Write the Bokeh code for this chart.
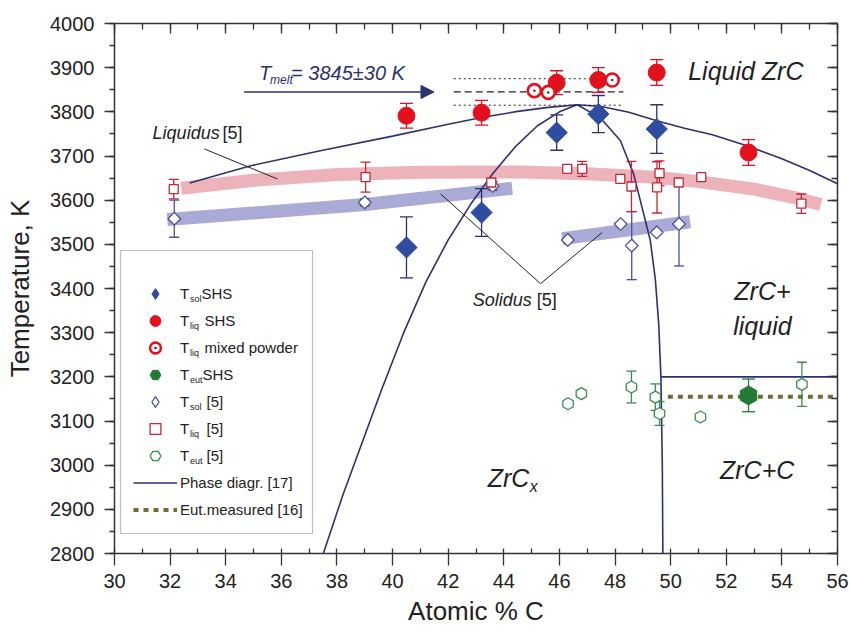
import numpy as np
from bokeh.plotting import figure
from bokeh.models import (Range1d, LinearAxis, SingleIntervalTicker, Label, Arrow,
                          NormalHead, Legend, LegendItem, BoxAnnotation, CustomJSTickFormatter)
from bokeh.embed import file_html
from bokeh.resources import INLINE

# ---------------- data ----------------
X_RANGE = (30, 56)
Y_RANGE = (2800, 4000)

# T_sol SHS (filled blue diamonds)
sol_shs_x = [40.5, 43.2, 45.9, 47.4, 49.5]
sol_shs_t = [3493, 3572, 3753, 3795, 3761]
sol_shs_err = [69, 54, 40, 42, 55]

# T_liq SHS (filled red circles)
liq_shs_x = [40.5, 43.2, 45.9, 47.4, 49.5, 52.8]
liq_shs_t = [3791, 3798, 3866, 3872, 3889, 3708]
liq_shs_err = [28, 28, 27, 28, 29, 29]

# T_liq mixed powder (open red circles with dot)
liq_mix_x = [45.1, 45.6, 47.9]
liq_mix_t = [3848, 3844, 3872]

# T_eut SHS (filled green hexagon)
eut_shs_x = [52.8]
eut_shs_t = [3158]
eut_shs_err = [37]

# T_sol [5] (open diamonds)
sol5_x = [32.15, 39.0, 43.6, 46.3, 48.2, 48.6, 49.5, 50.3]
sol5_t = [3558, 3595, 3632, 3510, 3546, 3497, 3527, 3546]
sol5_err = [42, 8, 10, 0, 0, 77, 0, 95]

# T_liq [5] (open squares)
liq5_x = [32.13, 39.03, 43.55, 46.28, 46.82, 48.19, 48.59, 49.6, 49.51, 50.29, 51.1, 54.7]
liq5_t = [3625, 3652, 3640, 3671, 3671, 3648, 3631, 3661, 3629, 3640, 3652, 3592]
liq5_err = [22, 34, 8, 0, 17, 0, 57, 28, 58, 0, 0, 22]

# T_eut [5] (open hexagons)
eut5_x = [46.31, 46.79, 48.59, 49.45, 49.6, 51.07, 54.72]
eut5_t = [3139, 3162, 3177, 3154, 3117, 3109, 3183]
eut5_err = [0, 0, 36, 30, 27, 0, 50]

# Phase diagram [17]
liquidus_x = [32.7, 34.9, 37.4, 40.0, 42.0, 43.2, 44.5, 45.6, 46.64, 47.5, 48.5, 49.5, 50.5, 51.5, 52.8, 54.0, 55.0, 56.0]
liquidus_t = [3639, 3678, 3712, 3745, 3772, 3787, 3801, 3810, 3816, 3812, 3799, 3780, 3763, 3748, 3722, 3694, 3667, 3637]
sol_left_x = [37.51, 38.2, 38.9, 39.6, 40.4, 41.2, 42.0, 42.8, 43.6, 44.4, 45.2, 46.0, 46.64]
sol_left_t = [2800, 2930, 3050, 3170, 3300, 3415, 3510, 3590, 3660, 3720, 3768, 3800, 3816]
sol_right_x = [46.64, 47.46, 48.19, 48.67, 49.03, 49.27, 49.45, 49.57, 49.65, 49.7, 49.72]
sol_right_t = [3816, 3787, 3735, 3659, 3569, 3508, 3420, 3320, 3200, 3000, 2800]
eut17_x = [49.65, 56.0]
eut17_t = [3200, 3200]

# Eutectic measured [16]
eutm_x = [49.9, 56.0]
eutm_t = [3155, 3155]

# Bands [5]
liq_band_x = [32.4, 35.0, 38.0, 41.0, 44.6, 47.0, 49.4, 51.0, 53.0, 54.5, 55.4]
liq_band_t = [3627, 3645, 3658, 3663, 3664, 3660, 3652, 3642, 3625, 3605, 3590]
sol_band1_x = [31.9, 39.0, 44.3]
sol_band1_t = [3556, 3590, 3627]
sol_band2_x = [46.1, 50.7]
sol_band2_t = [3513, 3551]

# T_melt = 3845 +- 30 K
tmelt_x = [42.2, 48.3]
tmelt_val = 3845
tmelt_err = 30
arrow_x = (34.66, 41.49)

# pointer lines
liq_ptr_x = [33.23, 35.86]
liq_ptr_t = [3716, 3648]
sol_ptr_x = [41.73, 45.32, 47.54]
sol_ptr_t = [3614, 3411, 3527]

# legend texts
leg_subs = ["sol", "liq", "liq", "eut", "sol", "liq", "eut"]
leg_rest = ["SHS", "SHS", "mixed powder", "SHS", "[5]", "[5]", "[5]"]

# ---------------- style ----------------
FONT = "Liberation Sans"
NAVY = "#2d3170"
BLUE = "#2f4da0"
RED = "#e3111d"
DGREEN = "#217a36"
GREEN = "#3d8b50"
SQRED = "#c2283a"
DIAB = "#4b4f97"
OLIVE = "#6f6d35"
AX = "#333333"

p = figure(width=850, height=632, x_range=Range1d(*X_RANGE), y_range=Range1d(*Y_RANGE),
           output_backend="svg", toolbar_location=None,
           x_axis_location=None, y_axis_location=None,
           min_border_left=114, min_border_right=13, min_border_top=23, min_border_bottom=79)
p.xgrid.visible = False
p.ygrid.visible = False
p.outline_line_color = None
p.background_fill_color = "white"


def make_axis(kind, labels):
    if kind == "x":
        t = SingleIntervalTicker(interval=2, num_minor_ticks=2)
    else:
        t = SingleIntervalTicker(interval=100, num_minor_ticks=2)
    a = LinearAxis(ticker=t)
    a.axis_line_color = AX
    a.axis_line_width = 1.5
    a.major_tick_line_color = AX
    a.minor_tick_line_color = AX
    a.major_tick_line_width = 1.3
    a.minor_tick_line_width = 1.3
    if not labels:
        a.formatter = CustomJSTickFormatter(code="return ''")
        a.major_label_standoff = 0
        a.major_label_text_font_size = "1px"
    else:
        a.major_label_text_font = FONT
        a.major_label_text_font_size = "20px"
        a.major_label_text_color = "#222222"
        a.axis_label_text_font = FONT
        a.axis_label_text_font_size = "26px"
        a.axis_label_text_font_style = "normal"
        a.axis_label_text_color = "#222222"
    return a


xb = make_axis("x", True)
xb.axis_label = "Atomic % C"
xb.major_tick_out, xb.major_tick_in = 12, 0
xb.minor_tick_out, xb.minor_tick_in = 0, 5
xb.major_label_standoff = 8
xb.axis_label_standoff = 5
p.add_layout(xb, "below")

yl = make_axis("y", True)
yl.axis_label = "Temperature, K"
yl.major_tick_out, yl.major_tick_in = 10, 0
yl.minor_tick_out, yl.minor_tick_in = 5, 0
yl.major_label_standoff = 10
yl.axis_label_standoff = 12
p.add_layout(yl, "left")

xt = make_axis("x", False)
xt.major_tick_out, xt.major_tick_in = 0, 10
xt.minor_tick_out, xt.minor_tick_in = 0, 6
p.add_layout(xt, "above")

yr = make_axis("y", False)
yr.major_tick_out, yr.major_tick_in = 0, 10
yr.minor_tick_out, yr.minor_tick_in = 0, 6
p.add_layout(yr, "right")

# ---------------- bands ----------------
p.line(liq_band_x, liq_band_t, line_color="#ecb4ba", line_width=13)
p.line(sol_band1_x, sol_band1_t, line_color="#aaaad6", line_width=13)
p.line(sol_band2_x, sol_band2_t, line_color="#aaaad6", line_width=13)

# ---------------- phase diagram lines ----------------
r_liquidus = p.line(liquidus_x, liquidus_t, line_color=NAVY, line_width=1.6)
p.line(sol_left_x, sol_left_t, line_color=NAVY, line_width=1.6)
p.line(sol_right_x, sol_right_t, line_color=NAVY, line_width=1.6)
p.line(eut17_x, eut17_t, line_color=NAVY, line_width=1.6)
r_eutm = p.line(eutm_x, eutm_t, line_color=OLIVE, line_width=4, line_dash="5 5")

# pointer lines
p.line(liq_ptr_x, liq_ptr_t, line_color="#222222", line_width=1)
p.line(sol_ptr_x, sol_ptr_t, line_color="#222222", line_width=1)

# T_melt lines
p.line(tmelt_x, [tmelt_val + tmelt_err] * 2, line_color="#222222", line_width=1, line_dash="2 3")
p.line(tmelt_x, [tmelt_val] * 2, line_color="#222222", line_width=1.2, line_dash="7 4")
p.line(tmelt_x, [tmelt_val - tmelt_err] * 2, line_color="#222222", line_width=1, line_dash="2 3")
p.add_layout(Arrow(end=NormalHead(size=13, fill_color=NAVY, line_color=NAVY),
                   x_start=arrow_x[0], y_start=tmelt_val, x_end=arrow_x[1], y_end=tmelt_val,
                   line_color=NAVY, line_width=1.6))


# ---------------- error bars ----------------
def errbars(xs, ts, errs, color, cap=12, lw=1.3):
    xe = [x for x, e in zip(xs, errs) if e > 0]
    lo = [t - e for t, e in zip(ts, errs) if e > 0]
    hi = [t + e for t, e in zip(ts, errs) if e > 0]
    p.segment(x0=xe, y0=lo, x1=xe, y1=hi, line_color=color, line_width=lw)
    p.scatter(x=xe + xe, y=lo + hi, marker="dash", size=cap, line_color=color, line_width=lw)


errbars(sol5_x, sol5_t, sol5_err, DIAB, cap=10)
errbars(liq5_x, liq5_t, liq5_err, SQRED, cap=10)
errbars(eut5_x, eut5_t, eut5_err, GREEN, cap=10)
errbars(sol_shs_x, sol_shs_t, sol_shs_err, NAVY, cap=13)
errbars(liq_shs_x, liq_shs_t, liq_shs_err, RED, cap=13)
errbars(eut_shs_x, eut_shs_t, eut_shs_err, DGREEN, cap=13)

# ---------------- markers ----------------
r_sol5 = p.scatter(sol5_x, sol5_t, marker="square", angle=np.pi / 4, size=9,
                   fill_color="white", line_color=DIAB, line_width=1.3)
r_sol5_leg = p.scatter(sol5_x, sol5_t, marker="diamond", size=12,
                       fill_color="white", line_color=DIAB, line_width=1.3, visible=False)
r_liq5 = p.scatter(liq5_x, liq5_t, marker="square", size=9,
                   fill_color="white", line_color=SQRED, line_width=1.3)
r_eut5 = p.scatter(eut5_x, eut5_t, marker="hex", angle=np.pi / 6, size=12,
                   fill_color="white", line_color=GREEN, line_width=1.3)

r_sol = p.scatter(sol_shs_x, sol_shs_t, marker="square", angle=np.pi / 4, size=15,
                  fill_color=BLUE, line_color=BLUE)
r_sol_leg = p.scatter(sol_shs_x, sol_shs_t, marker="diamond", size=20,
                      fill_color=BLUE, line_color=BLUE, visible=False)
r_liq = p.scatter(liq_shs_x, liq_shs_t, marker="circle", size=17,
                  fill_color=RED, line_color=RED)
r_mix = p.scatter(liq_mix_x, liq_mix_t, marker="circle", size=13,
                  fill_color="white", line_color=RED, line_width=2.6)
r_mixdot = p.scatter(liq_mix_x, liq_mix_t, marker="dot", size=10, line_color="#8a1a20")
r_eut = p.scatter(eut_shs_x, eut_shs_t, marker="hex", angle=np.pi / 6, size=19,
                  fill_color=DGREEN, line_color=DGREEN)


# ---------------- text annotations ----------------
def lab(x, y, text, size, style="italic", align="left", xo=0, yo=0, color="#222222"):
    p.add_layout(Label(x=x, y=y, text=text, x_offset=xo, y_offset=yo,
                       text_font=FONT, text_font_size=size, text_font_style=style,
                       text_align=align, text_baseline="middle", text_color=color))


lab(35.2, 3889, "T", "20px", color="#2d3170")
lab(35.2, 3889, "melt", "12px", xo=11, yo=-7, color="#2d3170")
lab(35.2, 3889, "= 3845\u00b130 K", "20px", xo=32, color="#2d3170")

lab(50.63, 3893, "Liquid ZrC", "25px")
lab(53.3, 3395, "ZrC+", "25px", align="center")
lab(53.3, 3316, "liquid", "25px", align="center")
lab(53.11, 2988, "ZrC+C", "25px", align="center")
lab(43.42, 2972, "ZrC", "25px")
lab(43.42, 2972, "x", "16px", xo=42, yo=-9)
lab(42.88, 3373, "Solidus", "18px")
lab(42.88, 3373, "[5]", "18px", style="normal", xo=64)
lab(31.37, 3753, "Liquidus", "18px")
lab(31.37, 3753, "[5]", "18px", style="normal", xo=70)

# ---------------- legend ----------------
FRAME_LEFT = 114
FRAME_BOTTOM = 632 - 79
p.add_layout(BoxAnnotation(left=120 - FRAME_LEFT, right=312 - FRAME_LEFT,
                           top=FRAME_BOTTOM - 250, bottom=FRAME_BOTTOM - 533,
                           left_units="screen", right_units="screen",
                           top_units="screen", bottom_units="screen",
                           fill_color="white", fill_alpha=1.0,
                           line_color="#222222", line_width=1.2))

legend = Legend(items=[
    LegendItem(label="T", renderers=[r_sol_leg]),
    LegendItem(label="T", renderers=[r_liq]),
    LegendItem(label="T", renderers=[r_mix, r_mixdot]),
    LegendItem(label="T", renderers=[r_eut]),
    LegendItem(label="T", renderers=[r_sol5_leg]),
    LegendItem(label="T", renderers=[r_liq5]),
    LegendItem(label="T", renderers=[r_eut5]),
    LegendItem(label="Phase diagr. [17]", renderers=[r_liquidus]),
    LegendItem(label="Eut.measured [16]", renderers=[r_eutm]),
], location=(133 - FRAME_LEFT, FRAME_BOTTOM - 523), glyph_width=44, glyph_height=27,
    label_height=27, spacing=0, padding=0, margin=0, label_standoff=3,
    border_line_color=None, background_fill_alpha=0, inactive_fill_alpha=0,
    label_text_font=FONT, label_text_font_size="15px", label_text_color="#222222")
p.add_layout(legend)

rest_x = [201, 204, 204, 202, 206, 206, 206]
for i, (s, r) in enumerate(zip(leg_subs, leg_rest)):
    cy = 293.3 + 27 * i
    p.add_layout(Label(x=189.5 - FRAME_LEFT, y=FRAME_BOTTOM - cy - 5, x_units="screen", y_units="screen",
                       text=s, text_font=FONT, text_font_size="9px", text_baseline="middle",
                       text_color="#222222"))
    p.add_layout(Label(x=rest_x[i] - FRAME_LEFT, y=FRAME_BOTTOM - cy, x_units="screen", y_units="screen",
                       text=r, text_font=FONT, text_font_size="15px", text_baseline="middle",
                       text_color="#222222"))

open("out.html", "w").write(file_html(p, INLINE))
